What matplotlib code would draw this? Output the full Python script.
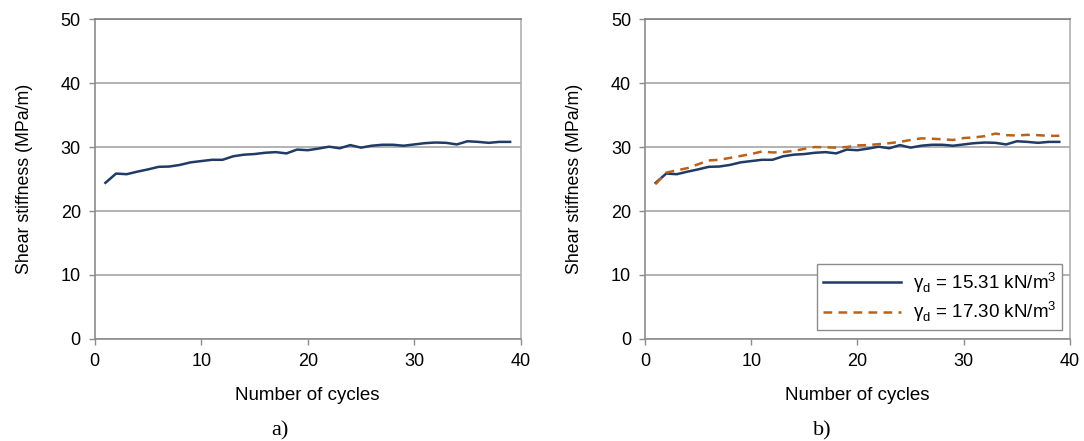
import numpy as np
import matplotlib
matplotlib.use("Agg")
import matplotlib.pyplot as plt

plt.rcParams['font.family'] = ['Liberation Sans', 'DejaVu Sans']

# cycles
cycles = list(range(1, 40))

# shear stiffness (MPa/m), gamma_d = 15.31 kN/m3
stiff_1531 = [24.4, 25.85, 25.75, 26.15, 26.5, 26.9, 26.95, 27.2, 27.6, 27.8,
              28.0, 28.0, 28.55, 28.8, 28.9, 29.1, 29.2, 29.0, 29.6, 29.5,
              29.75, 30.05, 29.8, 30.3, 29.9, 30.2, 30.35, 30.35, 30.2, 30.4,
              30.6, 30.7, 30.65, 30.4, 30.9, 30.8, 30.65, 30.8, 30.8]

# shear stiffness (MPa/m), gamma_d = 17.30 kN/m3
stiff_1730 = [24.2, 26.0, 26.35, 26.7, 27.3, 27.9, 28.0, 28.3, 28.6, 28.9,
              29.3, 29.15, 29.2, 29.4, 29.7, 30.0, 29.95, 29.9, 30.0, 30.25,
              30.3, 30.45, 30.6, 30.8, 31.1, 31.35, 31.3, 31.2, 31.1, 31.4,
              31.5, 31.7, 32.1, 31.85, 31.8, 31.9, 31.85, 31.75, 31.75]

blue = '#1f3b66'
orange = '#b8621b'

fig = plt.figure(figsize=(10.84, 4.41), dpi=100)
ax_a = fig.add_axes([0.0874, 0.2313, 0.393, 0.7256])
ax_b = fig.add_axes([0.595, 0.2313, 0.392, 0.7256])

for ax in (ax_a, ax_b):
    ax.set_xlim(0, 40)
    ax.set_ylim(0, 50)
    ax.set_xticks([0, 10, 20, 30, 40])
    ax.set_yticks([0, 10, 20, 30, 40, 50])
    ax.yaxis.grid(True, color='#a6a6a6', linewidth=1.2)
    ax.set_axisbelow(True)
    ax.spines['left'].set_color('#8c8c8c')
    ax.spines['bottom'].set_color('#8c8c8c')
    ax.spines['top'].set_color('#7f7f7f')
    ax.spines['right'].set_color('#b0b0b0')
    for s in ax.spines.values():
        s.set_linewidth(1.2)
    ax.tick_params(axis='both', direction='out', length=4, width=1.0,
                   color='#8c8c8c', labelsize=13, pad=6)
    ax.set_xlabel('Number of cycles', fontsize=13.5, labelpad=12)
    ax.set_ylabel('Shear stiffness (MPa/m)', fontsize=12.8, labelpad=20)

ax_a.plot(cycles, stiff_1531, color=blue, linewidth=1.8)

ax_b.plot(cycles, stiff_1531, color=blue, linewidth=1.8,
          label='γ$_\\mathregular{d}$ = 15.31 kN/m$^\\mathregular{3}$')
ax_b.plot(cycles, stiff_1730, color=orange, linewidth=1.8, linestyle=(0, (3.5, 2.5)),
          label='γ$_\\mathregular{d}$ = 17.30 kN/m$^\\mathregular{3}$')

leg = ax_b.legend(loc='lower right', bbox_to_anchor=(0.981, 0.028), borderaxespad=0,
                  fontsize=13.5, fancybox=False, framealpha=1, handlelength=4.2,
                  handletextpad=0.6, borderpad=0.3, labelspacing=0.25)
leg.get_frame().set_edgecolor('#8c8c8c')
leg.get_frame().set_linewidth(1.0)

fig.text(0.258, 0.012, 'a)', fontsize=16, family='Liberation Serif', ha='center')
fig.text(0.759, 0.012, 'b)', fontsize=16, family='Liberation Serif', ha='center')

fig.savefig('out.png', dpi=100)
